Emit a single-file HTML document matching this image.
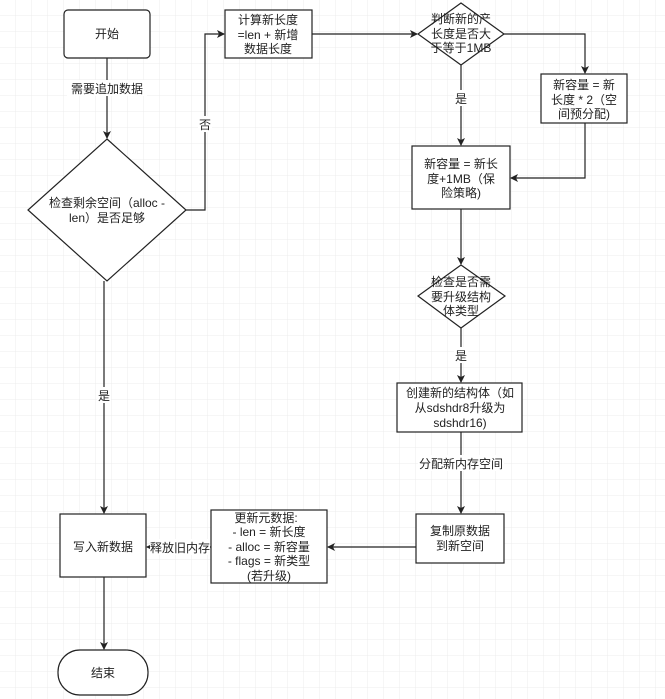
<!DOCTYPE html>
<html><head><meta charset="utf-8"><style>
html,body{margin:0;padding:0;background:#fff;}
svg{display:block;font-family:"Liberation Sans","Noto Sans CJK SC",sans-serif;}
text{font-size:12px;fill:#222;}
</style></head><body>
<svg width="665" height="699" viewBox="0 0 665 699" xmlns="http://www.w3.org/2000/svg">
<defs>
<pattern id="g" width="16" height="16" patternUnits="userSpaceOnUse">
<path d="M16 0V16M0 16H16" stroke="#ececec" stroke-width="1" fill="none"/>
</pattern>
<marker id="a" markerWidth="8" markerHeight="8" refX="7" refY="4" orient="auto" markerUnits="userSpaceOnUse">
<path d="M0,0 L8,4 L0,8 L2,4 Z" fill="#222"/>
</marker>
</defs>
<rect width="665" height="699" fill="url(#g)"/>
<g stroke="#222" stroke-width="1.2" fill="#fff">
<rect x="64" y="10" width="86" height="48" rx="4"/>
<rect x="225" y="10" width="87" height="48"/>
<polygon points="461,3 504,34 461,65 418,34"/>
<rect x="541" y="74" width="86" height="49"/>
<rect x="412" y="146" width="98" height="63"/>
<polygon points="107,139 186,210 107,281 28,210"/>
<polygon points="461,265 505,296 461,328 418,296"/>
<rect x="397" y="383" width="125" height="49"/>
<rect x="416" y="514" width="88" height="49"/>
<rect x="211" y="510" width="116" height="73"/>
<rect x="60" y="514" width="86" height="63"/>
<rect x="58" y="650" width="90" height="45" rx="22"/>
</g>
<g stroke="#222" stroke-width="1.2" fill="none" marker-end="url(#a)">
<path d="M107,58V138"/>
<path d="M186,210H205V34H224"/>
<path d="M312,34H417"/>
<path d="M504,34H585V73"/>
<path d="M461,65V145"/>
<path d="M585,123V178H511"/>
<path d="M461,209V264"/>
<path d="M461,328V382"/>
<path d="M461,432V513"/>
<path d="M416,547H328"/>
<path d="M211,547H147"/>
<path d="M104,281V513"/>
<path d="M104,577V649"/>
</g>
<g text-anchor="middle">
<rect x="67" y="80" width="80" height="16" fill="#fff"/>
<text x="107" y="93">需要追加数据</text>
<rect x="198" y="116" width="14" height="16" fill="#fff"/>
<text x="205" y="129">否</text>
<rect x="454" y="90" width="14" height="16" fill="#fff"/>
<text x="461" y="103">是</text>
<rect x="454" y="347" width="14" height="16" fill="#fff"/>
<text x="461" y="360">是</text>
<rect x="97" y="387" width="14" height="16" fill="#fff"/>
<text x="104" y="400">是</text>
<rect x="418" y="455" width="86" height="16" fill="#fff"/>
<text x="461" y="468">分配新内存空间</text>
<rect x="150" y="539" width="60" height="16" fill="#fff"/>
<text x="180" y="552">释放旧内存</text>
<text x="107" y="38">开始</text>
<text x="268" y="24">计算新长度</text>
<text x="268" y="39">=len + 新增</text>
<text x="268" y="53">数据长度</text>
<text x="461" y="23">判断新的产</text>
<text x="461" y="38">长度是否大</text>
<text x="461" y="52">于等于1MB</text>
<text x="584" y="89">新容量 = 新</text>
<text x="584" y="104">长度 * 2（空</text>
<text x="584" y="118">间预分配)</text>
<text x="461" y="168">新容量 = 新长</text>
<text x="461" y="183">度+1MB（保</text>
<text x="461" y="197">险策略)</text>
<text x="107" y="207">检查剩余空间（alloc -</text>
<text x="107" y="222">len）是否足够</text>
<text x="461" y="286">检查是否需</text>
<text x="461" y="301">要升级结构</text>
<text x="461" y="315">体类型</text>
<text x="460" y="397">创建新的结构体（如</text>
<text x="460" y="412">从sdshdr8升级为</text>
<text x="460" y="427">sdshdr16)</text>
<text x="460" y="535">复制原数据</text>
<text x="460" y="550">到新空间</text>
<text x="266" y="522">更新元数据:</text>
<text x="269" y="536">- len = 新长度</text>
<text x="269" y="551">- alloc = 新容量</text>
<text x="269" y="565">- flags = 新类型</text>
<text x="269" y="580">(若升级)</text>
<text x="103" y="551">写入新数据</text>
<text x="103" y="677">结束</text>
</g>
</svg>
</body></html>
